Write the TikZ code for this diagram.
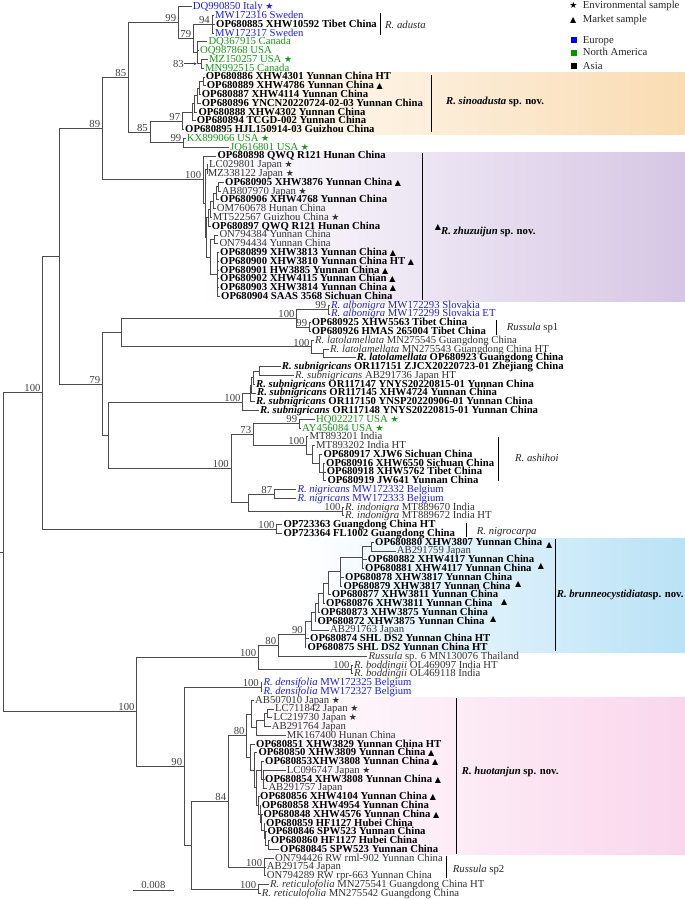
\documentclass[tikz,border=0pt]{standalone}
\usepackage{fontspec}
\setmainfont{Liberation Serif}
\newfontfamily\symf{DejaVu Sans}
\usetikzlibrary{arrows.meta}
\newcommand\lab{\fontsize{10.7}{11}\selectfont}
\newcommand\st{{\symf\fontsize{9}{9}\selectfont ★}}
\newcommand\tri{{\symf\fontsize{8}{8}\selectfont ▲}}
\newcommand\rw[1]{8.778*(#1)-2.078}
\definecolor{eublue}{RGB}{30,30,235}
\definecolor{nagreen}{RGB}{25,150,25}
\definecolor{peach}{RGB}{249,220,178}
\definecolor{lav}{RGB}{214,198,228}
\definecolor{lblue}{RGB}{185,226,246}
\definecolor{lpink}{RGB}{250,214,236}
\tikzset{
  lfr/.style={anchor=west, inner xsep=1pt, inner ysep=0pt, text height=7pt, text depth=1pt, font=\lab, text=black!80},
  lfb/.style={lfr, font=\lab\bfseries, text=black},
  lfe/.style={lfr, text=eublue},
  lfn/.style={lfr, text=nagreen},
  bs/.style={anchor=south east, inner sep=0pt, font=\lab, text=black!75},
  br/.style={line width=0.75pt, draw=black!70},
  cbar/.style={line width=0.9pt, draw=black},
  clab/.style={anchor=west, inner sep=0pt, text height=7pt, text depth=1pt, font=\lab, text=black!85},
}
\newcommand\bsv[2]{\node[bs] (b#1) at ([xshift=-2pt,yshift=0.5pt]#1) {#2};}
\begin{document}
\begin{tikzpicture}[x=1pt,y=-1pt]
\useasboundingbox (0,0) rectangle (685,900);
% clade boxes
\shade[left color=white, right color=peach] (183,72.5) rectangle (685,134.5);
\shade[left color=white, right color=lav] (200,152) rectangle (685,301);
\shade[left color=white, right color=lblue] (300,538) rectangle (685,652);
\shade[left color=white, right color=lpink] (245,697.5) rectangle (685,854.5);

% internal coordinates
\coordinate (rootstub) at (0,{\rw{63.135}});
\coordinate (root) at (3.3,{\rw{63.135}});
\coordinate (A) at (42.7,{\rw{44.96}});
\coordinate (B) at (59.3,{\rw{29.42}});
\coordinate (C) at (102.3,{\rw{14.86}});
\coordinate (nD) at (128.3,{\rw{9.035}});
\coordinate (n99a) at (178.3,{\rw{2.8125}});
\coordinate (n79) at (193.3,{\rw{4.625}});
\coordinate (n94) at (212,{\rw{3}});
\coordinate (nE) at (197,{\rw{6.25}});
\coordinate (n83) at (201.7,{\rw{7.5}});
\coordinate (n85b) at (150,{\rw{15.26}});
\coordinate (n97) at (182.3,{\rw{14.015}});
\coordinate (s1) at (192,{\rw{13.03}});
\coordinate (s2) at (194.5,{\rw{12.06}});
\coordinate (s3) at (197,{\rw{11.125}});
\coordinate (s4) at (199.5,{\rw{10.25}});
\coordinate (s5) at (203,{\rw{9.5}});
\coordinate (n99b) at (183.5,{\rw{16.5}});
\coordinate (z1) at (203.3,{\rw{20.69}});
\coordinate (z2) at (205,{\rw{23.38}});
\coordinate (z3) at (207,{\rw{19.5}});
\coordinate (z4) at (206.3,{\rw{27.27}});
\coordinate (z5a) at (208.5,{\rw{25.03}});
\coordinate (z5b) at (210.5,{\rw{24.06}});
\coordinate (z5c) at (213,{\rw{23.125}});
\coordinate (z5d) at (216,{\rw{22.25}});
\coordinate (z5e) at (218.5,{\rw{21.5}});
\coordinate (z6) at (210,{\rw{29.5}});
\coordinate (z7) at (214,{\rw{27.5}});
\coordinate (z8) at (217.5,{\rw{31.5}});
\coordinate (n79b) at (102.3,{\rw{43.98}});
\coordinate (G) at (121.7,{\rw{38.125}});
\coordinate (n100alb) at (296.7,{\rw{36.5}});
\coordinate (n99alb) at (328.3,{\rw{35.5}});
\coordinate (n99op) at (309.3,{\rw{37.5}});
\coordinate (n100lat) at (311.7,{\rw{39.75}});
\coordinate (nlat2) at (323.3,{\rw{40.5}});
\coordinate (H) at (108.7,{\rw{49.83}});
\coordinate (n100sub) at (242.7,{\rw{46.03}});
\coordinate (sE) at (250,{\rw{45.06}});
\coordinate (sD) at (251.5,{\rw{44.125}});
\coordinate (sC) at (253,{\rw{43.25}});
\coordinate (sA) at (259,{\rw{42.5}});
\coordinate (n100asi) at (231,{\rw{53.625}});
\coordinate (n73) at (253.3,{\rw{49.75}});
\coordinate (n99usa) at (299.3,{\rw{48.5}});
\coordinate (i1) at (306.7,{\rw{51}});
\coordinate (i2) at (312,{\rw{52}});
\coordinate (i3) at (319,{\rw{53}});
\coordinate (i4) at (323.5,{\rw{54}});
\coordinate (N2) at (248.3,{\rw{57.5}});
\coordinate (n87) at (274.3,{\rw{56.5}});
\coordinate (n100indo) at (342.7,{\rw{58.5}});
\coordinate (n100nig) at (276.7,{\rw{60.5}});
\coordinate (K) at (136.7,{\rw{81.31}});
\coordinate (n100brun) at (258.3,{\rw{75.12}});
\coordinate (n80) at (278.3,{\rw{73.745}});
\coordinate (n90b) at (305,{\rw{72.49}});
\coordinate (q8) at (311,{\rw{70.98}});
\coordinate (q7) at (315,{\rw{69.96}});
\coordinate (q6) at (318.5,{\rw{68.92}});
\coordinate (q5) at (323,{\rw{67.84}});
\coordinate (q4) at (328,{\rw{66.69}});
\coordinate (q3) at (340,{\rw{65.375}});
\coordinate (q2) at (362,{\rw{63.75}});
\coordinate (q1) at (371.7,{\rw{62.5}});
\coordinate (n100bod) at (351.7,{\rw{76.5}});
\coordinate (n90) at (184.3,{\rw{87.5}});
\coordinate (n100dens) at (261,{\rw{78.5}});
\coordinate (M) at (191.7,{\rw{96.51}});
\coordinate (n84) at (228.3,{\rw{91.515}});
\coordinate (n80h) at (246.7,{\rw{84.03}});
\coordinate (u4) at (251,{\rw{81.5625}});
\coordinate (u3) at (256.7,{\rw{83.125}});
\coordinate (u2) at (264.5,{\rw{82.25}});
\coordinate (u1) at (267.5,{\rw{81.5}});
\coordinate (hL) at (250,{\rw{86.5}});
\coordinate (hI) at (254.5,{\rw{88}});
\coordinate (hH) at (256.5,{\rw{89.99}});
\coordinate (hG2) at (261,{\rw{88}});
\coordinate (hG1) at (263.5,{\rw{89}});
\coordinate (hF) at (258.5,{\rw{91.985}});
\coordinate (hE) at (260,{\rw{92.97}});
\coordinate (hD) at (261.5,{\rw{93.94}});
\coordinate (hC) at (264,{\rw{94.875}});
\coordinate (hB) at (265.5,{\rw{95.75}});
\coordinate (hA) at (268.3,{\rw{96.5}});
\coordinate (n100sp2) at (264.3,{\rw{99}});
\coordinate (n100ret) at (258.3,{\rw{101.5}});

% leaves
\node[lfe] (L1) at (191.7,{\rw{1}}) {DQ990850 Italy \st};
\node[lfe] (L2) at (214,{\rw{2}}) {MW172316 Sweden};
\node[lfb] (L3) at (215,{\rw{3}}) {OP680885 XHW10592 Tibet China};
\node[lfe] (L4) at (214,{\rw{4}}) {MW172317 Sweden};
\node[lfn] (L5) at (207.3,{\rw{5}}) {DQ367915 Canada};
\node[lfn] (L6) at (199,{\rw{6}}) {OQ987868 USA};
\node[lfn] (L7) at (208,{\rw{7}}) {MZ150257 USA \st};
\node[lfn] (L8) at (204,{\rw{8}}) {MN992515 Canada};
\node[lfb] (L9) at (204.7,{\rw{9}}) {OP680886 XHW4301 Yunnan China HT};
\node[lfb] (L10) at (205.7,{\rw{10}}) {OP680889 XHW4786 Yunnan China \tri};
\node[lfb] (L11) at (200.7,{\rw{11}}) {OP680887 XHW4114 Yunnan China};
\node[lfb] (L12) at (200.7,{\rw{12}}) {OP680896 YNCN20220724-02-03 Yunnan China};
\node[lfb] (L13) at (197.3,{\rw{13}}) {OP680888 XHW4302 Yunnan China};
\node[lfb] (L14) at (195.7,{\rw{14}}) {OP680894 TCGD-002 Yunnan China};
\node[lfb] (L15) at (184,{\rw{15}}) {OP680895 HJL150914-03 Guizhou China};
\node[lfn] (L16) at (185.7,{\rw{16}}) {KX899066 USA \st};
\node[lfn] (L17) at (229,{\rw{17}}) {JQ616801 USA \st};
\node[lfb] (L18) at (216.3,{\rw{18}}) {OP680898 QWQ R121 Hunan China};
\node[lfr] (L19) at (208,{\rw{19}}) {LC029801 Japan \st};
\node[lfr] (L20) at (206.7,{\rw{20}}) {MZ338122 Japan \st};
\node[lfb] (L21) at (224,{\rw{21}}) {OP680905 XHW3876 Yunnan China \tri};
\node[lfr] (L22) at (220.7,{\rw{22}}) {AB807970 Japan \st};
\node[lfb] (L23) at (219,{\rw{23}}) {OP680906 XHW4768 Yunnan China};
\node[lfr] (L24) at (215.7,{\rw{24}}) {OM760678 Hunan China};
\node[lfr] (L25) at (211.7,{\rw{25}}) {MT522567 Guizhou China \st};
\node[lfb] (L26) at (210.7,{\rw{26}}) {OP680897 QWQ R121 Hunan China};
\node[lfr] (L27) at (218.3,{\rw{27}}) {ON794384 Yunnan China};
\node[lfr] (L28) at (218.3,{\rw{28}}) {ON794434 Yunnan China};
\node[lfb] (L29) at (219,{\rw{29}}) {OP680899 XHW3813 Yunnan China \tri};
\node[lfb] (L30) at (219,{\rw{30}}) {OP680900 XHW3810 Yunnan China HT \tri};
\node[lfb] (L31) at (219,{\rw{31}}) {OP680901 HW3885 Yunnan China \tri};
\node[lfb] (L32) at (219,{\rw{32}}) {OP680902 XHW4115 Yunnan Chian \tri};
\node[lfb] (L33) at (219,{\rw{33}}) {OP680903 XHW3814 Yunnan China \tri};
\node[lfb] (L34) at (220,{\rw{34}}) {OP680904 SAAS 3568 Sichuan China};
\node[lfe] (L35) at (330,{\rw{35}}) {\textit{R. albonigra} MW172293 Slovakia};
\node[lfe] (L36) at (330,{\rw{36}}) {\textit{R. albonigra} MW172299 Slovakia ET};
\node[lfb] (L37) at (310.7,{\rw{37}}) {OP680925 XHW5563 Tibet China};
\node[lfb] (L38) at (310.7,{\rw{38}}) {OP680926 HMAS 265004 Tibet China};
\node[lfr] (L39) at (314,{\rw{39}}) {\textit{R. latolamellata} MN275545 Guangdong China};
\node[lfr] (L40) at (329,{\rw{40}}) {\textit{R. latolamellata} MN275543 Guangdong China HT};
\node[lfb] (L41) at (355.7,{\rw{41}}) {\textit{R. latolamellata} OP680923 Guangdong China};
\node[lfb] (L42) at (280.7,{\rw{42}}) {\textit{R. subnigricans} OR117151 ZJCX20220723-01 Zhejiang China};
\node[lfr] (L43) at (294,{\rw{43}}) {\textit{R. subnigricans} AB291736 Japan HT};
\node[lfb] (L44) at (255,{\rw{44}}) {\textit{R. subnigricans} OR117147 YNYS20220815-01 Yunnan China};
\node[lfb] (L45) at (256,{\rw{45}}) {\textit{R. subnigricans} OR117145 XHW4724 Yunnan China};
\node[lfb] (L46) at (255,{\rw{46}}) {\textit{R. subnigricans} OR117150 YNSP20220906-01 Yunnan China};
\node[lfb] (L47) at (259,{\rw{47}}) {\textit{R. subnigricans} OR117148 YNYS20220815-01 Yunnan China};
\node[lfn] (L48) at (315,{\rw{48}}) {HQ022217 USA \st};
\node[lfn] (L49) at (301,{\rw{49}}) {AY456084 USA \st};
\node[lfr] (L50) at (308.3,{\rw{50}}) {MT893201 India};
\node[lfr] (L51) at (315,{\rw{51}}) {MT893202 India HT};
\node[lfb] (L52) at (322.3,{\rw{52}}) {OP680917 XJW6 Sichuan China};
\node[lfb] (L53) at (325,{\rw{53}}) {OP680916 XHW6550 Sichuan China};
\node[lfb] (L54) at (325.7,{\rw{54}}) {OP680918 XHW5762 Tibet China};
\node[lfb] (L55) at (326.3,{\rw{55}}) {OP680919 JW641 Yunnan China};
\node[lfe] (L56) at (296.3,{\rw{56}}) {\textit{R. nigricans} MW172332 Belgium};
\node[lfe] (L57) at (296.3,{\rw{57}}) {\textit{R. nigricans} MW172333 Belgium};
\node[lfr] (L58) at (344,{\rw{58}}) {\textit{R. indonigra} MT889670 India};
\node[lfr] (L59) at (344,{\rw{59}}) {\textit{R. indonigra} MT889672 India HT};
\node[lfb] (L60) at (282.3,{\rw{60}}) {OP723363 Guangdong China HT};
\node[lfb] (L61) at (282.3,{\rw{61}}) {OP723364 FL1002 Guangdong China};
\node[lfb] (L62) at (374,{\rw{62}}) {OP680880 XHW3807 Yunnan China};
\node[lfr] (L63) at (395.7,{\rw{63}}) {AB291759 Japan};
\node[lfb] (L64) at (366.7,{\rw{64}}) {OP680882 XHW4117 Yunnan China};
\node[lfb] (L65) at (364,{\rw{65}}) {OP680881 XHW4117 Yunnan China};
\node[lfb] (L66) at (344,{\rw{66}}) {OP680878 XHW3817 Yunnan China};
\node[lfb] (L67) at (342.3,{\rw{67}}) {OP680879 XHW3817 Yunnan China};
\node[lfb] (L68) at (330.7,{\rw{68}}) {OP680877 XHW3811 Yunnan China};
\node[lfb] (L69) at (325,{\rw{69}}) {OP680876 XHW3811 Yunnan China};
\node[lfb] (L70) at (319.7,{\rw{70}}) {OP680873 XHW3875 Yunnan China};
\node[lfb] (L71) at (316.3,{\rw{71}}) {OP680872 XHW3875 Yunnan China};
\node[lfr] (L72) at (329,{\rw{72}}) {AB291763 Japan};
\node[lfb] (L73) at (309,{\rw{73}}) {OP680874 SHL DS2 Yunnan China HT};
\node[lfb] (L74) at (306.3,{\rw{74}}) {OP680875 SHL DS2 Yunnan China HT};
\node[lfr] (L75) at (367.3,{\rw{75}}) {\textit{Russula} sp. 6 MN130076 Thailand};
\node[lfr] (L76) at (353,{\rw{76}}) {\textit{R. boddingii} OL469097 India HT};
\node[lfr] (L77) at (353,{\rw{77}}) {\textit{R. boddingii} OL469118 India};
\node[lfe] (L78) at (262.3,{\rw{78}}) {\textit{R. densifolia} MW172325 Belgium};
\node[lfe] (L79) at (262.3,{\rw{79}}) {\textit{R. densifolia} MW172327 Belgium};
\node[lfr] (L80) at (254,{\rw{80}}) {AB507010 Japan \st};
\node[lfr] (L81) at (274,{\rw{81}}) {LC711842 Japan \st};
\node[lfr] (L82) at (272.3,{\rw{82}}) {LC219730 Japan \st};
\node[lfr] (L83) at (270.7,{\rw{83}}) {AB291764 Japan};
\node[lfr] (L84) at (285.7,{\rw{84}}) {MK167400 Hunan China};
\node[lfb] (L85) at (255,{\rw{85}}) {OP680851 XHW3829 Yunnan China HT};
\node[lfb] (L86) at (257.3,{\rw{86}}) {OP680850 XHW3809 Yunnan China \tri};
\node[lfb] (L87) at (264,{\rw{87}}) {OP680853XHW3808 Yunnan China \tri};
\node[lfr] (L88) at (285.7,{\rw{88}}) {LC096747 Japan \st};
\node[lfb] (L89) at (264,{\rw{89}}) {OP680854 XHW3808 Yunnan China \tri};
\node[lfr] (L90) at (267.3,{\rw{90}}) {AB291757 Japan};
\node[lfb] (L91) at (259,{\rw{91}}) {OP680856 XHW4104 Yunnan China \tri};
\node[lfb] (L92) at (260.7,{\rw{92}}) {OP680858 XHW4954 Yunnan China};
\node[lfb] (L93) at (262.3,{\rw{93}}) {OP680848 XHW4576 Yunnan China \tri};
\node[lfb] (L94) at (265,{\rw{94}}) {OP680859 HF1127 Hubei China};
\node[lfb] (L95) at (266.3,{\rw{95}}) {OP680846 SPW523 Yunnan China};
\node[lfb] (L96) at (269.7,{\rw{96}}) {OP680860 HF1127 Hubei China};
\node[lfb] (L97) at (279,{\rw{97}}) {OP680845 SPW523 Yunnan China};
\node[lfr] (L98) at (274,{\rw{98}}) {ON794426 RW rml-902 Yunnan China};
\node[lfr] (L99) at (265.7,{\rw{99}}) {AB291754 Japan};
\node[lfr] (L100) at (265.7,{\rw{100}}) {ON794289 RW rpr-663 Yunnan China};
\node[lfr] (L101) at (269,{\rw{101}}) {\textit{R. reticulofolia} MN275541 Guangdong China HT};
\node[lfr] (L102) at (260.7,{\rw{102}}) {\textit{R. reticulofolia} MN275542 Guangdong China};

% market-sample marks of R. brunneocystidiata
\node[lfr, anchor=center, text=black] (t1) at (549.3,544) {\tri};
\node[lfr, anchor=center, text=black] (t2) at (541,565) {\tri};
\node[lfr, anchor=center, text=black] (t3) at (518.3,583.3) {\tri};
\node[lfr, anchor=center, text=black] (t4) at (504.3,601.5) {\tri};
\node[lfr, anchor=center, text=black] (t5) at (493.3,618) {\tri};
\node[lfr, anchor=center, text=black] (t6) at (438,226) {\tri};

% branches
\draw[br] (rootstub) -- (root);
\draw[br] (root) |- (A); \draw[br] (root) |- (K);
\draw[br] (A) |- (B); \draw[br] (A) |- (n100nig);
\draw[br] (B) |- (C); \draw[br] (B) |- (n79b);
\draw[br] (C) |- (nD); \draw[br] (C) |- (z1);
\draw[br] (nD) |- (n99a); \draw[br] (nD) |- (n85b);
\draw[br] (n99a) |- (L1.west); \draw[br] (n99a) |- (n79);
\draw[br] (n79) |- (n94); \draw[br] (n79) |- (nE);
\draw[br] (n94) |- (L2.west); \draw[br] (n94) |- (L3.west); \draw[br] (n94) |- (L4.west);
\draw[br] (nE) |- (L5.west); \draw[br] (nE) |- (L6.west); \draw[br] (nE) |- (n83);
\draw[br] (n83) |- (L7.west); \draw[br] (n83) |- (L8.west);
\draw[br] (n85b) |- (n97); \draw[br] (n85b) |- (n99b);
\draw[br] (n97) |- (s1); \draw[br] (n97) |- (L15.west);
\draw[br] (s1) |- (s2); \draw[br] (s1) |- (L14.west);
\draw[br] (s2) |- (s3); \draw[br] (s2) |- (L13.west);
\draw[br] (s3) |- (s4); \draw[br] (s3) |- (L12.west);
\draw[br] (s4) |- (s5); \draw[br] (s4) |- (L11.west);
\draw[br] (s5) |- (L9.west); \draw[br] (s5) |- (L10.west);
\draw[br] (n99b) |- (L16.west); \draw[br] (n99b) |- (L17.west);
\draw[br] (z1) |- (L18.west); \draw[br] (z1) |- (z2);
\draw[br] (z2) |- (z3); \draw[br] (z2) |- (z4);
\draw[br] (z3) |- (L19.west); \draw[br] (z3) |- (L20.west);
\draw[br] (z4) |- (z5a); \draw[br] (z4) |- (z6);
\draw[br] (z5a) |- (z5b); \draw[br] (z5a) |- (L26.west);
\draw[br] (z5b) |- (z5c); \draw[br] (z5b) |- (L25.west);
\draw[br] (z5c) |- (z5d); \draw[br] (z5c) |- (L24.west);
\draw[br] (z5d) |- (z5e); \draw[br] (z5d) |- (L23.west);
\draw[br] (z5e) |- (L21.west); \draw[br] (z5e) |- (L22.west);
\draw[br] (z6) |- (z7); \draw[br] (z6) |- (z8);
\draw[br] (z7) |- (L27.west); \draw[br] (z7) |- (L28.west);
\foreach \k in {29,...,34} {\draw[br] (z8) |- (L\k.west);}
\draw[br] (n79b) |- (G); \draw[br] (n79b) |- (H);
\draw[br] (G) |- (n100alb); \draw[br] (G) |- (n100lat);
\draw[br] (n100alb) |- (n99alb); \draw[br] (n100alb) |- (n99op);
\draw[br] (n99alb) |- (L35.west); \draw[br] (n99alb) |- (L36.west);
\draw[br] (n99op) |- (L37.west); \draw[br] (n99op) |- (L38.west);
\draw[br] (n100lat) |- (L39.west); \draw[br] (n100lat) |- (nlat2);
\draw[br] (nlat2) |- (L40.west); \draw[br] (nlat2) |- (L41.west);
\draw[br] (H) |- (n100sub); \draw[br] (H) |- (n100asi);
\draw[br] (n100sub) |- (sE); \draw[br] (n100sub) |- (L47.west);
\draw[br] (sE) |- (sD); \draw[br] (sE) |- (L46.west);
\draw[br] (sD) |- (sC); \draw[br] (sD) |- (L45.west);
\draw[br] (sC) |- (sA); \draw[br] (sC) |- (L44.west);
\draw[br] (sA) |- (L42.west); \draw[br] (sA) |- (L43.west);
\draw[br] (n100asi) |- (n73); \draw[br] (n100asi) |- (N2);
\draw[br] (n73) |- (n99usa); \draw[br] (n73) |- (i1);
\draw[br] (n99usa) |- (L48.west); \draw[br] (n99usa) |- (L49.west);
\draw[br] (i1) |- (L50.west); \draw[br] (i1) |- (i2);
\draw[br] (i2) |- (L51.west); \draw[br] (i2) |- (i3);
\draw[br] (i3) |- (L52.west); \draw[br] (i3) |- (i4);
\draw[br] (i4) |- (L53.west); \draw[br] (i4) |- (L54.west); \draw[br] (i4) |- (L55.west);
\draw[br] (N2) |- (n87); \draw[br] (N2) |- (n100indo);
\draw[br] (n87) |- (L56.west); \draw[br] (n87) |- (L57.west);
\draw[br] (n100indo) |- (L58.west); \draw[br] (n100indo) |- (L59.west);
\draw[br] (n100nig) |- (L60.west); \draw[br] (n100nig) |- (L61.west);
\draw[br] (K) |- (n100brun); \draw[br] (K) |- (n90);
\draw[br] (n100brun) |- (n80); \draw[br] (n100brun) |- (n100bod);
\draw[br] (n80) |- (n90b); \draw[br] (n80) |- (L75.west);
\draw[br] (n90b) |- (q8); \draw[br] (n90b) |- (L73.west); \draw[br] (n90b) |- (L74.west);
\draw[br] (q8) |- (q7); \draw[br] (q8) |- (L72.west);
\draw[br] (q7) |- (q6); \draw[br] (q7) |- (L71.west);
\draw[br] (q6) |- (q5); \draw[br] (q6) |- (L70.west);
\draw[br] (q5) |- (q4); \draw[br] (q5) |- (L69.west);
\draw[br] (q4) |- (q3); \draw[br] (q4) |- (L68.west);
\draw[br] (q3) |- (q2); \draw[br] (q3) |- (L66.west); \draw[br] (q3) |- (L67.west);
\draw[br] (q2) |- (q1); \draw[br] (q2) |- (L64.west); \draw[br] (q2) |- (L65.west);
\draw[br] (q1) |- (L62.west); \draw[br] (q1) |- (L63.west);
\draw[br] (n100bod) |- (L76.west); \draw[br] (n100bod) |- (L77.west);
\draw[br] (n90) |- (n100dens); \draw[br] (n90) |- (M);
\draw[br] (n100dens) |- (L78.west); \draw[br] (n100dens) |- (L79.west);
\draw[br] (M) |- (n84); \draw[br] (M) |- (n100ret);
\draw[br] (n84) |- (n80h); \draw[br] (n84) |- (n100sp2);
\draw[br] (n80h) |- (u4); \draw[br] (n80h) |- (hL);
\draw[br] (u4) |- (L80.west); \draw[br] (u4) |- (u3);
\draw[br] (u3) |- (u2); \draw[br] (u3) |- (L84.west);
\draw[br] (u2) |- (u1); \draw[br] (u2) |- (L83.west);
\draw[br] (u1) |- (L81.west); \draw[br] (u1) |- (L82.west);
\draw[br] (hL) |- (L85.west); \draw[br] (hL) |- (hI);
\draw[br] (hI) |- (L86.west); \draw[br] (hI) |- (hH);
\draw[br] (hH) |- (hG2); \draw[br] (hH) |- (hF);
\draw[br] (hG2) |- (L87.west); \draw[br] (hG2) |- (hG1);
\draw[br] (hG1) |- (L88.west); \draw[br] (hG1) |- (L89.west); \draw[br] (hG1) |- (L90.west);
\draw[br] (hF) |- (L91.west); \draw[br] (hF) |- (hE);
\draw[br] (hE) |- (L92.west); \draw[br] (hE) |- (hD);
\draw[br] (hD) |- (L93.west); \draw[br] (hD) |- (hC);
\draw[br] (hC) |- (L94.west); \draw[br] (hC) |- (hB);
\draw[br] (hB) |- (L95.west); \draw[br] (hB) |- (hA);
\draw[br] (hA) |- (L96.west); \draw[br] (hA) |- (L97.west);
\draw[br] (n100sp2) |- (L98.west); \draw[br] (n100sp2) |- (L99.west); \draw[br] (n100sp2) |- (L100.west);
\draw[br] (n100ret) |- (L101.west); \draw[br] (n100ret) |- (L102.west);

% bootstrap values
\bsv{n99a}{99} \bsv{n94}{94} \bsv{n79}{79} \bsv{nD}{85} \bsv{n97}{97}
\bsv{n99b}{99} \bsv{n85b}{85} \bsv{C}{89} \bsv{z1}{100} \bsv{A}{100}
\bsv{n79b}{79} \bsv{n100alb}{100} \bsv{n99alb}{99} \bsv{n99op}{99}
\bsv{n100lat}{100} \bsv{n100sub}{100} \bsv{n100asi}{100} \bsv{n73}{73}
\bsv{n99usa}{99} \bsv{i1}{100} \bsv{n87}{87} \bsv{n100indo}{100}
\bsv{n100nig}{100} \bsv{K}{100} \bsv{n100brun}{100} \bsv{n80}{80}
\bsv{n90b}{90} \bsv{n100bod}{100} \bsv{n90}{90} \bsv{n100dens}{100}
\bsv{n84}{84} \bsv{n80h}{80} \bsv{n100sp2}{100} \bsv{n100ret}{100}
\node[bs, anchor=east] (b83) at (184,{\rw{7.5}}) {83};
\draw[-{Stealth[length=3pt,width=3pt]}, line width=0.6pt, black!75, shorten >=5pt] (b83) -- (n83);

% clade bars and names
\coordinate (ad1) at (380,13.3); \coordinate (ad2) at (380,35);
\draw[cbar] (ad1) -- (ad2);
\node[clab] (adn) at (385,25) {\textit{R. adusta}};
\coordinate (si1) at (431.7,75); \coordinate (si2) at (431.7,132);
\draw[cbar] (si1) -- (si2);
\node[clab, text=black] (sin) at (446,101.7) {\textbf{\textit{R. sinoadusta} sp. nov.}};
\coordinate (zh1) at (422.7,153); \coordinate (zh2) at (422.7,299.5);
\draw[cbar] (zh1) -- (zh2);
\node[clab, text=black] (zhn) at (441,231) {\textbf{\textit{R. zhuzuijun} sp. nov.}};
\coordinate (p11) at (496,320); \coordinate (p12) at (496,335);
\draw[cbar] (p11) -- (p12);
\node[clab] (p1n) at (506.7,327.7) {\textit{Russula} sp1};
\coordinate (as1) at (498,437); \coordinate (as2) at (498,481);
\draw[cbar] (as1) -- (as2);
\node[clab] (asn) at (515,458) {\textit{R. ashihoi}};
\coordinate (ng1) at (466,523.3); \coordinate (ng2) at (466,536.7);
\draw[cbar] (ng1) -- (ng2);
\node[clab] (ngn) at (476.7,531) {\textit{R. nigrocarpa}};
\coordinate (bu1) at (555.7,539); \coordinate (bu2) at (555.7,651);
\draw[cbar] (bu1) -- (bu2);
\node[clab, text=black] (bun) at (556.7,594) {\textbf{\textit{R. brunneocystidiata}sp. nov.}};
\coordinate (hu1) at (456,698); \coordinate (hu2) at (456,854);
\draw[cbar] (hu1) -- (hu2);
\node[clab, text=black] (hun) at (461.7,771.7) {\textbf{\textit{R. huotanjun} sp. nov.}};
\coordinate (p21) at (446.7,855.7); \coordinate (p22) at (446.7,878.3);
\draw[cbar] (p21) -- (p22);
\node[clab] (p2n) at (452.7,869.3) {\textit{Russula} sp2};

% scale bar
\coordinate (sb1) at (132.7,890); \coordinate (sb2) at (174,890);
\draw[br] (sb1) -- (sb2) node[midway, above=0.5pt, inner sep=0pt, font=\lab, text=black!75] (sbl) {0.008};

% legend
\node[lfr, anchor=center, text=black] (ls1) at (573.3,5.7) {\st};
\node[clab] (lt1) at (582.7,5.7) {Environmental sample};
\node[lfr, anchor=center, text=black] (ls2) at (573.3,19.3) {\tri};
\node[clab] (lt2) at (582.7,19.3) {Market sample};
\node[fill={rgb,255:red,0;green,0;blue,255}, minimum size=6pt, inner sep=0pt] (lq1) at (574,40) {};
\node[clab] (lt3) at (582.7,40) {Europe};
\node[fill={rgb,255:red,0;green,150;blue,0}, minimum size=6pt, inner sep=0pt] (lq2) at (574,52.7) {};
\node[clab] (lt4) at (582.7,52.7) {North America};
\node[fill=black, minimum size=6pt, inner sep=0pt] (lq3) at (574,66) {};
\node[clab] (lt5) at (582.7,66) {Asia};
\end{tikzpicture}
\end{document}
